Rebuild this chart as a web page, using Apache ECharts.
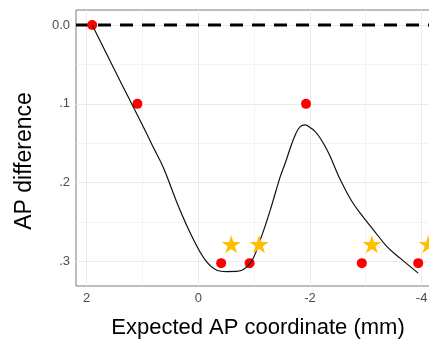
<!DOCTYPE html>
<html>
<head>
<meta charset="utf-8">
<script src="https://cdn.jsdelivr.net/npm/echarts@6/dist/echarts.min.js"></script>
<style>
  html, body { margin: 0; padding: 0; overflow: hidden; background: #fff; }
  #chart { width: 450px; height: 341px; }
</style>
</head>
<body>
<div id="chart"></div>
<script>
// observed points (expected AP coordinate, AP difference)
var circlePoints = [
  [1.90, 0.0], [1.09, 0.1], [-1.93, 0.1],
  [-0.41, 0.302], [-0.92, 0.302], [-2.93, 0.302], [-3.94, 0.302]
];
var starPoints = [[-0.59, 0.278], [-1.09, 0.278], [-3.11, 0.278], [-4.12, 0.278]];
// smoothed fit
var fitCurve = [
  [1.90, 0.000], [1.35, 0.078], [0.95, 0.134], [0.785, 0.158], [0.624, 0.181], [0.355, 0.230],
  [0.115, 0.268], [-0.124, 0.298], [-0.333, 0.311], [-0.50, 0.3127], [-0.69, 0.3125],
  [-0.93, 0.302], [-1.11, 0.2725], [-1.29, 0.2345], [-1.47, 0.192], [-1.557, 0.1753],
  [-1.647, 0.1563], [-1.737, 0.1394], [-1.826, 0.1289], [-1.916, 0.1267], [-2.005, 0.1302],
  [-2.095, 0.1352], [-2.185, 0.1436], [-2.274, 0.1542], [-2.364, 0.1669], [-2.453, 0.1816],
  [-2.543, 0.1960], [-2.72, 0.2200], [-2.90, 0.2387], [-3.14, 0.260], [-3.38, 0.281],
  [-3.62, 0.296], [-3.94, 0.3147]
];
var xTicks = [2, 0, -2, -4];
var xMinor = [1, -1, -3];
var yTicks = [0, 0.1, 0.2, 0.3];
var yMinor = [0.05, 0.15, 0.25];
var xRange = [-4.33, 2.19];
var yRange = [-0.019, 0.331];

var starPath = 'path://M50,0 L61.8,35.1 L98.9,35.1 L68.9,56.7 L80.3,91.9 L50,70.2 L19.7,91.9 L31.1,56.7 L1.1,35.1 L38.2,35.1 Z';

var gridLines = [];
xMinor.forEach(function (v) { gridLines.push({ xAxis: v, lineStyle: { width: 0.6 } }); });
yMinor.forEach(function (v) { gridLines.push({ yAxis: v, lineStyle: { width: 0.6 } }); });
xTicks.forEach(function (v) { gridLines.push({ xAxis: v, lineStyle: { width: 1 } }); });
yTicks.forEach(function (v) { gridLines.push({ yAxis: v, lineStyle: { width: 1 } }); });

var myChart = echarts.init(document.getElementById('chart'));
var option = {
  animation: false,
  grid: {
    left: 76, right: 10, top: 10, bottom: 55, outerBoundsMode: 'none', containLabel: false,
    show: true, borderColor: '#7a7a7a', borderWidth: 1, backgroundColor: '#fff'
  },
  xAxis: {
    type: 'value', inverse: true, min: xRange[0], max: xRange[1], splitNumber: 3,
    axisLine: { show: false },
    splitLine: { show: false },
    axisTick: { show: true, length: 3, lineStyle: { color: '#7a7a7a' }, customValues: xTicks },
    axisLabel: {
      customValues: xTicks,
      color: '#4d4d4d', fontSize: 13, fontFamily: 'Liberation Sans', margin: 6
    },
    name: 'Expected AP coordinate (mm)', nameLocation: 'middle', nameGap: 31,
    nameTextStyle: { color: '#000', fontSize: 22, fontFamily: 'Liberation Sans' }
  },
  yAxis: {
    type: 'value', inverse: true, min: yRange[0], max: yRange[1], splitNumber: 4,
    axisLine: { show: false },
    splitLine: { show: false },
    axisTick: { show: true, length: 3, lineStyle: { color: '#7a7a7a' }, customValues: yTicks },
    axisLabel: {
      customValues: yTicks,
      color: '#4d4d4d', fontSize: 13, fontFamily: 'Liberation Sans', margin: 6,
      formatter: function (v) { return v === 0 ? '0.0' : String(v).replace('0.', '.'); }
    },
    name: 'AP difference', nameLocation: 'middle', nameGap: 40,
    nameTextStyle: { color: '#000', fontSize: 23, fontFamily: 'Liberation Sans', padding: [0, 26, 0, 0] }
  },
  series: [
    {
      type: 'line', data: [], silent: true, z: 1,
      markLine: {
        silent: true, symbol: 'none', label: { show: false }, z: 1, animation: false,
        lineStyle: { color: '#ebebeb', type: 'solid' },
        data: gridLines
      }
    },
    {
      type: 'line', data: [[xRange[1], 0], [xRange[0], 0]], showSymbol: false, silent: true, z: 2,
      lineStyle: { color: '#000', width: 3, type: [13, 9] }
    },
    {
      type: 'scatter', data: circlePoints, symbol: 'circle', symbolSize: 10, z: 3,
      itemStyle: { color: '#ff0000', opacity: 1 }
    },
    {
      type: 'line', data: fitCurve, smooth: 0.4, showSymbol: false, z: 4,
      lineStyle: { color: '#111', width: 1.2 }
    },
    {
      type: 'scatter', data: starPoints, symbol: starPath, symbolSize: 19, symbolKeepAspect: true, z: 5,
      itemStyle: { color: '#ffbf00', opacity: 1 }
    }
  ]
};
myChart.setOption(option);
</script>
</body>
</html>
